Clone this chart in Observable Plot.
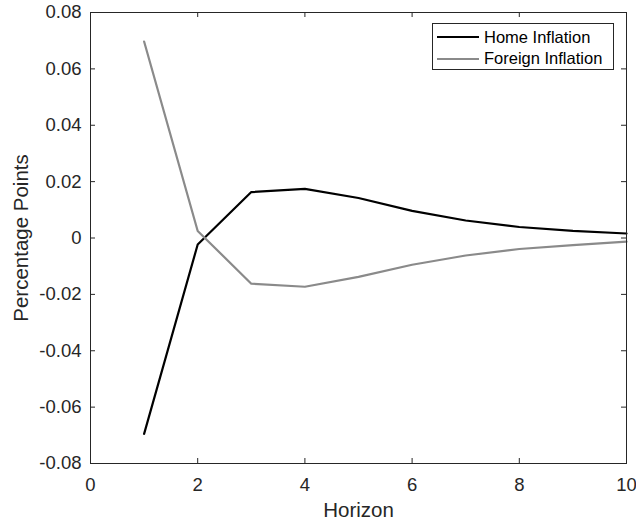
<!DOCTYPE html>
<html>
<head>
<meta charset="utf-8">
<script src="https://cdn.jsdelivr.net/npm/d3@7"></script>
<script src="https://cdn.jsdelivr.net/npm/@observablehq/plot@0.6"></script>
<style>
  html, body { margin: 0; padding: 0; background: #fff; }
  #wrap { position: relative; width: 636px; height: 521px; font-family: "Liberation Sans", Arial, Helvetica, sans-serif; }
  #legend { position: absolute; left: 432px; top: 23px; width: 180px; height: 45px; border: 1px solid #262626; background: #fff; font-size: 16.5px; color: #000; }
  #legend .row { position: absolute; left: 4px; height: 20px; display: flex; align-items: center; }
  #legend .sw { width: 42px; height: 2px; margin-right: 5px; }
</style>
</head>
<body>
<div id="wrap"></div>
<script>
const horizon = [1, 2, 3, 4, 5, 6, 7, 8, 9, 10];
const homeInflation = [-0.0695, -0.0023, 0.0163, 0.0174, 0.0142, 0.0096, 0.0062, 0.0039, 0.0025, 0.0016];
const foreignInflation = [0.0697, 0.0025, -0.0162, -0.0173, -0.0138, -0.0095, -0.0062, -0.0039, -0.0025, -0.0013];
const seriesNames = ["Home Inflation", "Foreign Inflation"];
const seriesColors = ["#000000", "#8a8a8a"];
const xTicks = [0, 2, 4, 6, 8, 10];
const yTicks = [-0.08, -0.06, -0.04, -0.02, 0, 0.02, 0.04, 0.06, 0.08];
const xLabel = "Horizon";
const yLabel = "Percentage Points";

const data = [];
horizon.forEach((h, i) => {
  data.push({h, v: homeInflation[i], s: seriesNames[0]});
  data.push({h, v: foreignInflation[i], s: seriesNames[1]});
});

const W = 636, H = 521, mL = 90, mR = 10, mT = 12, mB = 58;
const plotW = W - mL - mR, plotH = H - mT - mB;
const tickLen = 5;
const axisColor = "#262626";
const fmtY = d => d === 0 ? "0" : d.toFixed(2);
const fmtX = d => String(d);

const chart = Plot.plot({
  width: W, height: H,
  marginLeft: mL, marginRight: mR, marginTop: mT, marginBottom: mB,
  style: {fontFamily: '"Liberation Sans", Arial, Helvetica, sans-serif', fontSize: "18.5px", color: axisColor, background: "#fff"},
  x: {domain: [0, 10], ticks: xTicks},
  y: {domain: [-0.08, 0.08], ticks: yTicks},
  color: {domain: seriesNames, range: seriesColors},
  marks: [
    Plot.line(data, {x: "h", y: "v", stroke: "s", z: "s", strokeWidth: 2.2}),
    Plot.frame({stroke: axisColor, strokeWidth: 1}),
    // inward ticks on all four sides
    Plot.tickX(xTicks, {x: d => d, insetTop: plotH - tickLen, stroke: axisColor}),
    Plot.tickX(xTicks, {x: d => d, insetBottom: plotH - tickLen, stroke: axisColor}),
    Plot.tickY(yTicks, {y: d => d, insetRight: plotW - tickLen, stroke: axisColor}),
    Plot.tickY(yTicks, {y: d => d, insetLeft: plotW - tickLen, stroke: axisColor}),
    Plot.axisX({ticks: xTicks, tickSize: 0, tickPadding: 14, tickFormat: fmtX, label: null, fontSize: 18.5, fill: axisColor}),
    Plot.axisY({ticks: yTicks, tickSize: 0, tickPadding: 9, tickFormat: fmtY, label: null, fontSize: 18.5, fill: axisColor}),
    Plot.text([xLabel], {frameAnchor: "bottom", textAnchor: "middle", lineAnchor: "middle", dy: 47, text: d => d, fontSize: 20.5, fill: axisColor}),
    Plot.text([yLabel], {frameAnchor: "left", textAnchor: "middle", lineAnchor: "middle", rotate: -90, dx: -69, text: d => d, fontSize: 20.5, fill: axisColor})
  ]
});

const wrap = document.getElementById("wrap");
wrap.appendChild(chart);

const legend = document.createElement("div");
legend.id = "legend";
seriesNames.forEach((name, i) => {
  const row = document.createElement("div");
  row.className = "row";
  row.style.top = (3 + i * 21.5) + "px";
  const sw = document.createElement("span");
  sw.className = "sw";
  sw.style.background = seriesColors[i];
  const t = document.createElement("span");
  t.textContent = name;
  row.appendChild(sw);
  row.appendChild(t);
  legend.appendChild(row);
});
wrap.appendChild(legend);
</script>
</body>
</html>
